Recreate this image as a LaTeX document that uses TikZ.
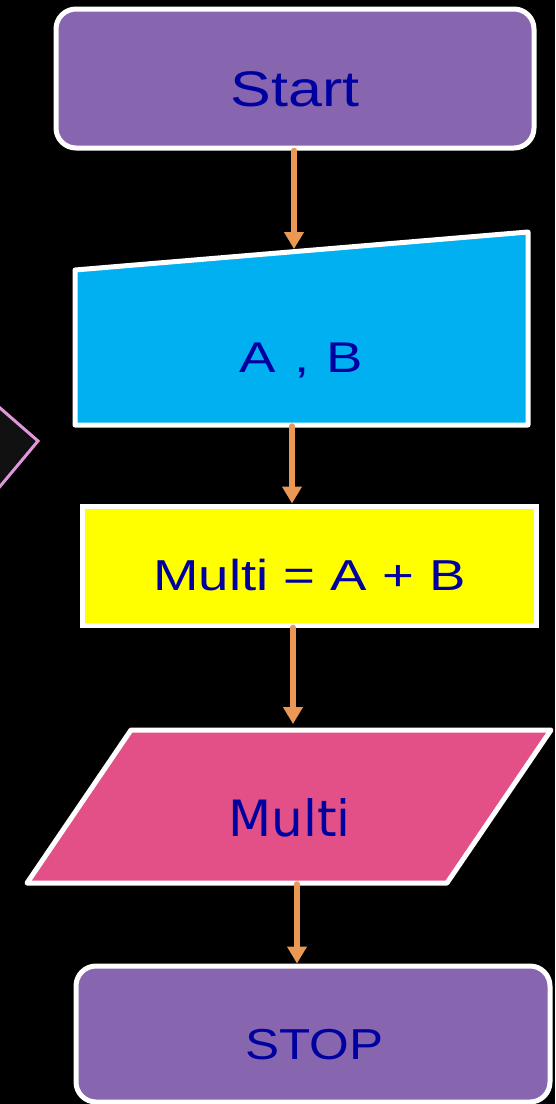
\documentclass[tikz,border=0pt]{standalone}
\usepackage{fontspec}
\usepackage{graphicx}
\setmainfont{Liberation Sans}
\newfontfamily\dejavu{DejaVu Sans}
\usetikzlibrary{arrows.meta}
\definecolor{txtblue}{RGB}{0,0,160}
\definecolor{termpurple}{RGB}{135,102,175}
\definecolor{incyan}{RGB}{0,176,240}
\definecolor{procyellow}{RGB}{255,255,0}
\definecolor{outpink}{RGB}{227,80,135}
\definecolor{arrorange}{RGB}{235,152,85}
\definecolor{diapink}{RGB}{225,150,220}
\definecolor{diafill}{RGB}{17,17,17}
\begin{document}
\begin{tikzpicture}[x=1pt,y=-1pt,
  box/.style={draw=white,line width=5pt,inner sep=0pt},
  term/.style={box,fill=termpurple,rounded corners=20pt},
  lbl/.style={text=txtblue,anchor=base,inner sep=0pt},
  arr/.style={draw=arrorange,line width=5.5pt,line cap=round,-{Triangle[width=19pt,length=17pt]}}]
\fill[black] (0,0) rectangle (555,1104);
\useasboundingbox (0,0) rectangle (555,1104);

% partial diamond at left edge
\draw[draw=diapink,fill=diafill,line width=3pt,line join=miter] (-8,401) -- (38,441) -- (-8,496) -- cycle;

% Start
\node[term,minimum width=478pt,minimum height=139pt] (start) at (295,78.5) {};
\node[lbl,font=\fontsize{50}{50}\selectfont] (tstart) at (295,106.5) {\scalebox{1.22}[1]{Start}};

% manual input
\draw[box,fill=incyan,line join=round] (75,270) -- (528,232) -- (528,425) -- (75,425) -- cycle;
\coordinate (inTop) at (294,249);
\coordinate (inBot) at (292,426);
\node[lbl,font=\fontsize{43}{43}\selectfont] (tin) at (301.5,372.5) {\scalebox{1.27}[1]{A \kern2.5pt, \kern1.5pt B}};

% process
\node[box,fill=procyellow,minimum width=454pt,minimum height=119pt] (proc) at (309,565.5) {};
\node[lbl,font=\fontsize{43.3}{43.3}\selectfont] (tproc) at (309.5,590) {\scalebox{1.26}[1]{Multi = A + B}};

% output
\draw[box,fill=outpink,line join=round] (131,730) -- (551,730) -- (447,883) -- (27,883) -- cycle;
\coordinate (outTop) at (293,724);
\coordinate (outBot) at (297,884);
\node[lbl,font=\dejavu\fontsize{50}{50}\selectfont] (tout) at (289.5,836.5) {Multi};

% STOP
\node[term,minimum width=474pt,minimum height=136pt] (stop) at (313,1034) {};
\node[lbl,font=\fontsize{43.3}{43.3}\selectfont] (tstop) at (314.5,1059) {\scalebox{1.18}[1]{STOP}};

% connectors
\draw[arr] (start.south -| inTop) -- (inTop);
\draw[arr] (inBot) -- (proc.north -| inBot);
\draw[arr] (proc.south -| outTop) -- (outTop);
\draw[arr] (outBot) -- (stop.north -| outBot);
\end{tikzpicture}
\end{document}
